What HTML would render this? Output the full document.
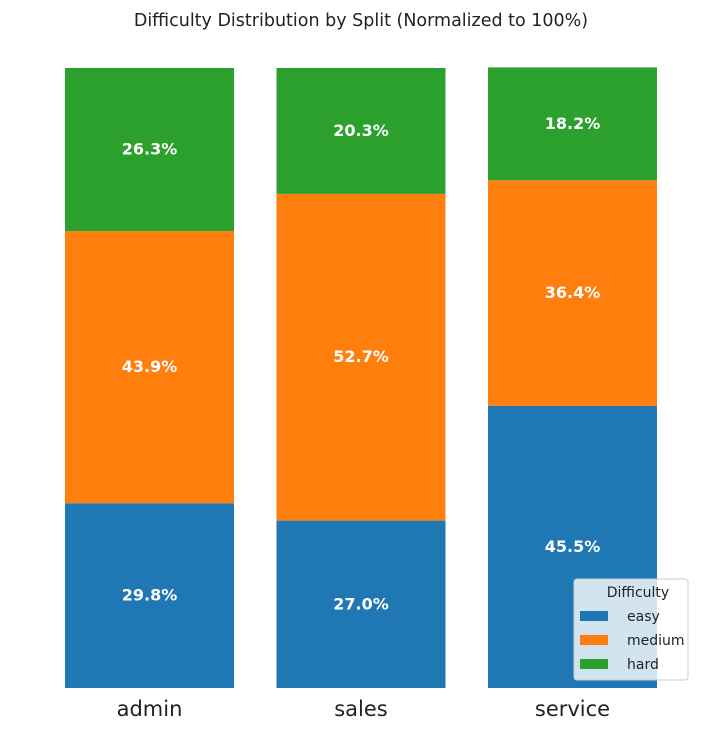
<!DOCTYPE html>
<html><head><meta charset="utf-8"><style>
body{margin:0;background:#fff;}
svg{display:block;font-family:"DejaVu Sans","Liberation Sans",sans-serif;}
</style></head><body>
<svg id="chart" width="722" height="734">
<text x="361" y="26" text-anchor="middle" font-size="17.5" fill="#222">Difficulty Distribution by Split (Normalized to 100%)</text>
<g id="bars"></g>
<g id="xlabels"></g>
<g>
<rect x="574" y="579" width="114" height="101" rx="3" fill="#fff" fill-opacity="0.8" stroke="#ccc"/>
<text x="638" y="597" text-anchor="middle" font-size="14" fill="#222">Difficulty</text>
<g id="legend-items"></g>
</g>
</svg>
<script>
const categories=["admin","sales","service"];
const easy=[29.8,27.0,45.5];
const medium=[43.9,52.7,36.4];
const hard=[26.3,20.3,18.2];
const seriesNames=["easy","medium","hard"];
const colors=["#1f77b4","#ff7f0e","#2ca02c"];
const NS="http://www.w3.org/2000/svg";
const plotTop=68,plotBottom=688,barW=169,x0=65,step=211.5;
function y(v){return plotBottom-(v/100)*(plotBottom-plotTop);}
function xb(i){return x0+i*step;}
const bars=document.getElementById("bars");
const series=[easy,medium,hard];
categories.forEach((c,i)=>{
  let cum=0;
  series.forEach((s,k)=>{
    const v=s[i];
    const r=document.createElementNS(NS,"rect");
    r.setAttribute("x",xb(i));r.setAttribute("width",barW);
    r.setAttribute("y",y(cum+v));r.setAttribute("height",y(cum)-y(cum+v));
    r.setAttribute("fill",colors[k]);
    
    
    bars.appendChild(r);
    const t=document.createElementNS(NS,"text");
    t.setAttribute("x",xb(i)+barW/2);t.setAttribute("y",(y(cum)+y(cum+v))/2+5);
    t.setAttribute("text-anchor","middle");t.setAttribute("font-size","16");
    t.setAttribute("font-weight","bold");t.setAttribute("fill","#fff");
    t.textContent=v.toFixed(1)+"%";
    
    
    bars.appendChild(t);
    cum+=v;
  });
  const l=document.createElementNS(NS,"text");
  l.setAttribute("x",xb(i)+barW/2);l.setAttribute("y",716);
  l.setAttribute("text-anchor","middle");l.setAttribute("font-size","21");l.setAttribute("fill","#222");
  l.textContent=c;
  
  
  document.getElementById("xlabels").appendChild(l);
});
const li=document.getElementById("legend-items");
seriesNames.forEach((n,k)=>{
  const yy=611+k*24;
  const r=document.createElementNS(NS,"rect");
  r.setAttribute("x",580);r.setAttribute("y",yy);r.setAttribute("width",28);r.setAttribute("height",10);
  r.setAttribute("fill",colors[k]);
  
  
  li.appendChild(r);
  const t=document.createElementNS(NS,"text");
  t.setAttribute("x",627);t.setAttribute("y",yy+10);t.setAttribute("font-size","14");t.setAttribute("fill","#222");
  t.textContent=n;
  
  
  li.appendChild(t);
});
</script>
</body></html>
